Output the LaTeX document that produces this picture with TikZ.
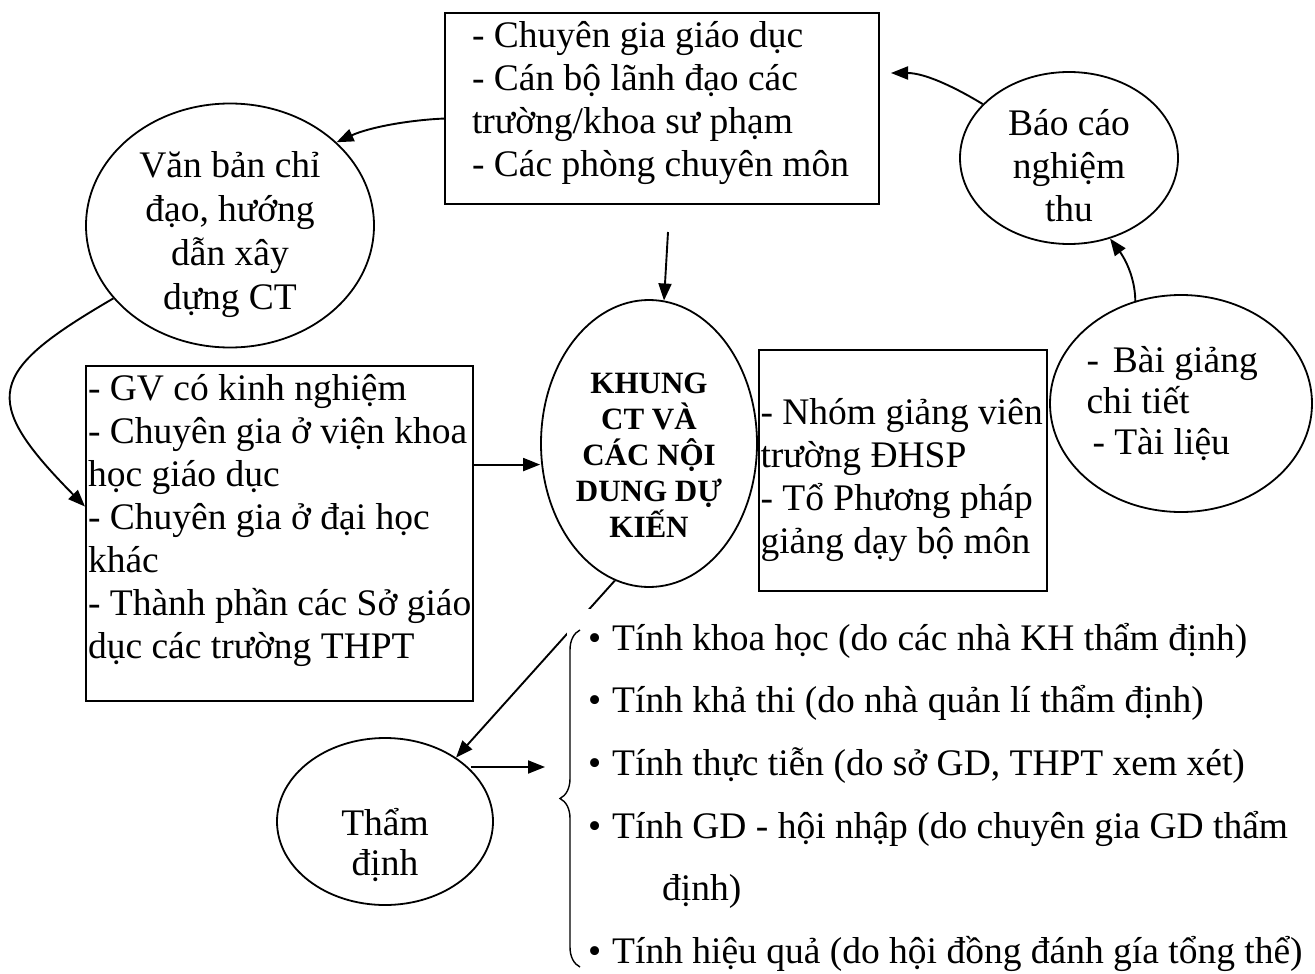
\documentclass[tikz,border=0pt]{standalone}
\usepackage{fontspec}
\setmainfont{Liberation Serif}
\usetikzlibrary{shapes.geometric,arrows.meta,decorations.pathreplacing}
\begin{document}
\begin{tikzpicture}[x=1pt,y=-1pt,
  txt/.style={font=\fontsize{37.5}{43}\selectfont},
  box/.style={txt,draw,line width=2.1pt,rectangle,align=left,anchor=north west},
  oval/.style={txt,draw,line width=1.8pt,ellipse,align=center,inner sep=0pt},
  link/.style={line width=1.9pt},
  arr/.style={link,-{Triangle[length=17pt,width=13pt]}},
  ]
\fill[white] (0,0) rectangle (1315,974);
\useasboundingbox (0,0) rectangle (1315,974);

% boxes and ovals
\node[box, minimum width=434pt, minimum height=191pt, inner xsep=27pt] (top) at (444,12)
  {\makebox[380pt][l]{- Chuyên gia giáo dục}\\- Cán bộ lãnh đạo các\\trường/khoa sư phạm\\- Các phòng chuyên môn\rule[-20pt]{0pt}{0pt}};
\node[oval, font=\fontsize{37.5}{44}\selectfont, minimum width=288pt, minimum height=244pt, inner ysep=-8pt] (van) at (230,225.5)
  {\rule{0pt}{44pt}Văn bản chỉ\\đạo, hướng\\dẫn xây\\dựng CT};
\node[box, minimum width=385pt, minimum height=335pt, inner xsep=2pt] (lbox) at (85,365)
  {\makebox[381pt][l]{- GV có kinh nghiệm}\\- Chuyên gia ở viện khoa\\học giáo dục\\- Chuyên gia ở đại học\\khác\\- Thành phần các Sở giáo\\dục các trường THPT\\[-8pt]\mbox{}};
\node[oval, font=\bfseries\fontsize{31}{36}\selectfont, minimum width=216pt, minimum height=287pt] (khung) at (649,443.5)
  {\rule{0pt}{43pt}KHUNG\\CT VÀ\\CÁC NỘI\\DUNG DỰ\\KIẾN};
\node[box, minimum width=288pt, minimum height=241pt, inner xsep=1.5pt] (rbox) at (758,349)
  {\rule{0pt}{44pt}\makebox[285pt][l]{- Nhóm giảng viên}\\trường ĐHSP\\- Tổ Phương pháp\\giảng dạy bộ môn};
\node[oval, font=\fontsize{37.5}{41}\selectfont, align=left, minimum width=262pt, minimum height=217pt, inner xsep=-4pt] (bai) at (1181,403.5)
  {\makebox[189pt][l]{-\hspace{14pt}Bài giảng}\\chi tiết\\\hspace{6pt}- Tài liệu};
\node[oval, minimum width=218pt, minimum height=172pt, inner ysep=-10pt] (bao) at (1069,158)
  {\rule{0pt}{41pt}Báo cáo\\nghiệm\\thu};
\node[oval, font=\fontsize{37.5}{40}\selectfont, minimum width=216pt, minimum height=167pt, inner ysep=-4pt] (tham) at (385,821.5)
  {\rule{0pt}{75pt}Thẩm\\định};

% line from the framework to the appraisal oval, partly covered by the criteria list
\draw[arr] (khung.256) -- (tham.42);

% appraisal criteria
\node[txt, font=\fontsize{37.5}{62.6}\selectfont, fill=white, align=left, anchor=north west,
      inner xsep=21pt, inner ysep=14pt] (crit) at (567,609)
  {\makebox[24pt][l]{•}Tính khoa học (do các nhà KH thẩm định)\\
   \makebox[24pt][l]{•}Tính khả thi (do nhà quản lí thẩm định)\\
   \makebox[24pt][l]{•}Tính thực tiễn (do sở GD, THPT xem xét)\\
   \makebox[24pt][l]{•}Tính GD - hội nhập (do chuyên gia GD thẩm\\
   \hspace{74pt}định)\\
   \makebox[24pt][l]{•}Tính hiệu quả (do hội đồng đánh gía tổng thể)};
\draw[line width=1.4pt, decorate, decoration={brace, amplitude=20pt}] (580,967) -- (580,630);

% connectors
\draw[arr] ([yshift=-10pt]top.west) .. controls (410,120) and (370,127) .. (van.38);
\draw[arr] (van.212) .. controls (-13,372) and (-21,399) .. ([yshift=27pt]lbox.west);
\path ([yshift=69pt]lbox.east) coordinate (c1);
\draw[arr] (c1) -- (khung.west |- c1);
\coordinate (c2) at (668,232);
\draw[arr] (c2) -- (khung.84);
\draw[arr] (bai.114) .. controls (1135,275) and (1123,256) .. (bao.297);
\coordinate (c4) at (891,73);
\draw[arr] (bao.148) .. controls (958,89) and (926,73) .. (c4);
\coordinate (c3) at (545,767);
\draw[arr] (tham.31 |- c3) -- (c3);
\end{tikzpicture}
\end{document}
